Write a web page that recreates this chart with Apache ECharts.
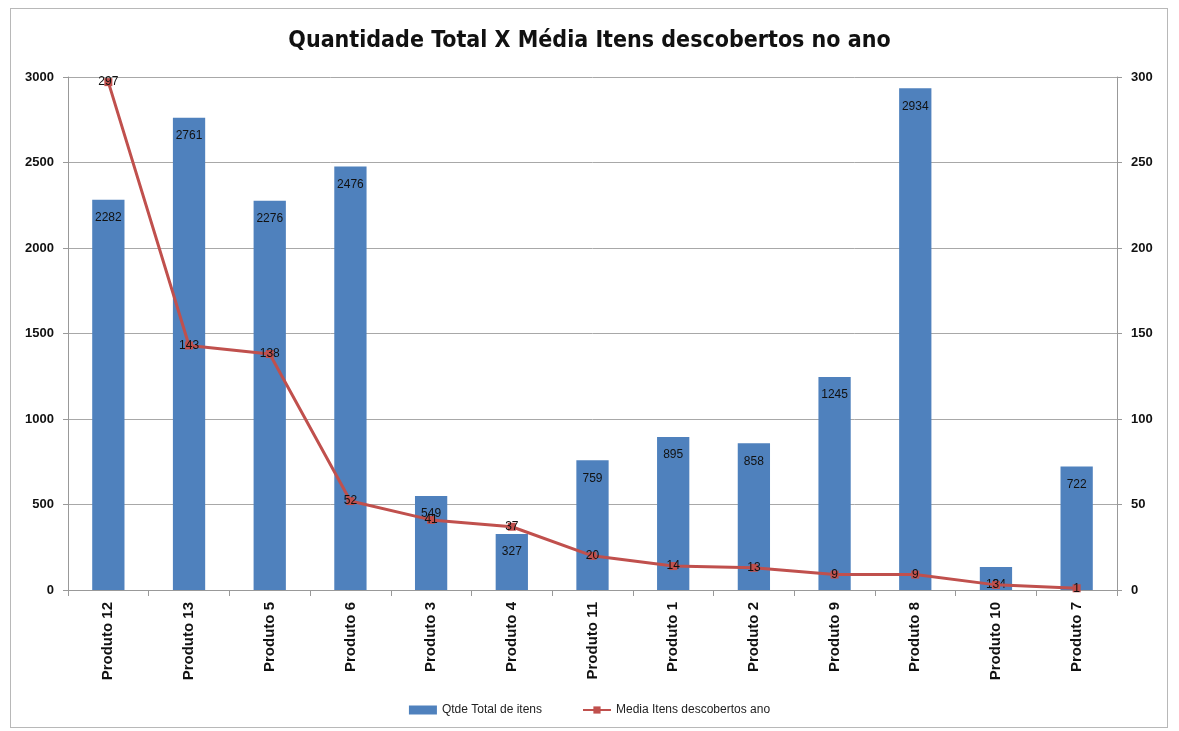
<!DOCTYPE html>
<html style="height: 100%">

<head>
    <meta charset="utf-8">
    <title>index</title>
    <style>
        html, body { margin: 0; padding: 0; background: #fff; }
        #frame {
            position: absolute; left: 10px; top: 8px; width: 1156px; height: 718px;
            border: 1px solid #b8b8b8;
        }
        #container {
            width: 1179px;
            height: 731px;
        }
    </style>
</head>

<body>
    <div id="frame"></div>
    <div id="container"></div>
</body>
<script src="https://cdn.jsdelivr.net/npm/echarts@6/dist/echarts.min.js"></script>
<script type="text/javascript">
    var produtos = ['Produto 12', 'Produto 13', 'Produto 5', 'Produto 6', 'Produto 3', 'Produto 4', 'Produto 11',
        'Produto 1', 'Produto 2', 'Produto 9', 'Produto 8', 'Produto 10', 'Produto 7'];
    var qtdeTotal = [2282, 2761, 2276, 2476, 549, 327, 759, 895, 858, 1245, 2934, 134, 722];
    var mediaDescobertos = [297, 143, 138, 52, 41, 37, 20, 14, 13, 9, 9, 3, 1];

    // fontes parecidas com Calibri / Arial
    var narrow = '"Liberation Sans Narrow", "DejaVu Sans Condensed", sans-serif';
    var arial = '"Liberation Sans", Arial, sans-serif';

    var dom = document.getElementById("container");
    var myChart = echarts.init(dom);

    var option = {
        animation: false,
        title: {
            text: 'Quantidade Total X Média Itens descobertos no ano',
            left: 'center',
            top: 25,
            textStyle: { fontFamily: narrow, fontSize: 23, fontWeight: 'bold', color: '#111' }
        },
        legend: {
            bottom: 10,
            left: 'center',
            itemGap: 40,
            itemWidth: 28,
            itemHeight: 9,
            textStyle: { fontFamily: arial, fontSize: 12, color: '#222' },
            data: [
                { name: 'Qtde Total de itens', icon: 'rect' },
                { name: 'Media Itens descobertos ano' }
            ]
        },
        grid: { left: 68, right: 62, top: 77, bottom: 141 },
        xAxis: {
            type: 'category',
            data: produtos,
            axisLine: { lineStyle: { color: '#999' } },
            axisTick: { show: true, length: 6, lineStyle: { color: '#999' } },
            axisLabel: {
                rotate: 90, interval: 0, color: '#111', fontWeight: 'bold', fontSize: 15,
                fontFamily: arial, margin: 12
            }
        },
        yAxis: [
            {
                type: 'value', min: 0, max: 3000, interval: 500,
                axisLine: { show: true, lineStyle: { color: '#999' } },
                axisTick: { show: true, length: 5, lineStyle: { color: '#999' } },
                splitLine: { lineStyle: { color: '#a8a8a8' } },
                axisLabel: {
                    color: '#111', fontWeight: 'bold', fontSize: 13, fontFamily: arial, margin: 14,
                    formatter: function (v) { return String(v); }
                }
            },
            {
                type: 'value', min: 0, max: 300, interval: 50,
                axisLine: { show: true, lineStyle: { color: '#999' } },
                axisTick: { show: true, length: 5, lineStyle: { color: '#999' } },
                splitLine: { show: false },
                axisLabel: { color: '#111', fontWeight: 'bold', fontSize: 13, fontFamily: arial, margin: 14 }
            }
        ],
        series: [
            {
                name: 'Qtde Total de itens',
                type: 'bar',
                data: qtdeTotal,
                barWidth: '40%',
                itemStyle: { color: '#4f81bd' },
                label: {
                    show: true, position: 'insideTop', distance: 12,
                    color: '#111', fontSize: 12, fontFamily: arial
                }
            },
            {
                name: 'Media Itens descobertos ano',
                type: 'line',
                yAxisIndex: 1,
                data: mediaDescobertos,
                symbol: 'rect',
                symbolSize: 8,
                lineStyle: { color: '#c0504d', width: 3 },
                itemStyle: { color: '#c0504d' },
                label: {
                    show: true, position: 'inside',
                    color: '#111', fontSize: 12, fontFamily: arial
                },
                z: 5
            }
        ]
    };

    if (option && typeof option === "object") {
        myChart.setOption(option, true);
    };
</script>

</html>
